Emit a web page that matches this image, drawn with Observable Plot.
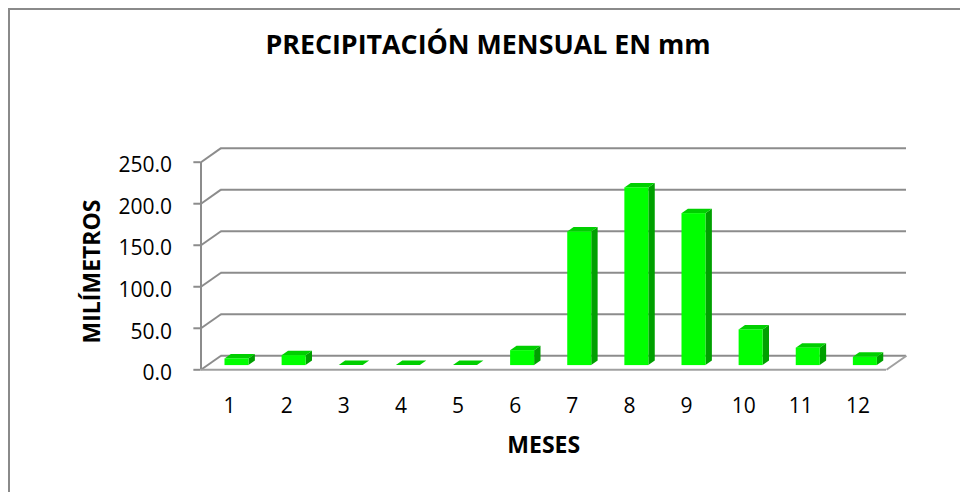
<!DOCTYPE html>
<html>
<head>
<meta charset="utf-8">
<script src="https://cdn.jsdelivr.net/npm/d3@7"></script>
<script src="https://cdn.jsdelivr.net/npm/@observablehq/plot@0.6"></script>
<style>
  html, body { margin: 0; padding: 0; background: #fff; overflow: hidden; }
  #chart svg { display: block; }
</style>
</head>
<body>
<div id="chart"></div>
<script>
// ---- data ----
const months = [1, 2, 3, 4, 5, 6, 7, 8, 9, 10, 11, 12];
const precipitation = [8, 12, 0, 0, 0, 18, 161, 214, 183, 43, 21, 10];
const yTicks = [0, 50, 100, 150, 200, 250];
const yTickLabels = ["0.0", "50.0", "100.0", "150.0", "200.0", "250.0"];
const title = "PRECIPITACIÓN MENSUAL EN mm";
const yTitle = "MILÍMETROS";
const xTitle = "MESES";

// ---- 3D projection (depth expressed in data units) ----
const DX = 0.35;    // full depth, in category units
const DY = 16.9;    // full depth, in mm units
const D0 = 0.3, D1 = 0.62;          // bar front / back depth
const BX0 = 0.315, BX1 = 0.735;     // bar extent inside its category

const rows = months.map((m, i) => ({month: m, value: precipitation[i]}));
const front = rows.map(d => ({
  month: d.month,
  x1: d.month - 1 + BX0 + D0 * DX,
  x2: d.month - 1 + BX1 + D0 * DX,
  y1: D0 * DY,
  y2: d.value + D0 * DY
}));
const tops = rows.flatMap(d => [
  {month: d.month, y: d.value + D0 * DY, x1: d.month - 1 + BX0 + D0 * DX, x2: d.month - 1 + BX1 + D0 * DX},
  {month: d.month, y: d.value + D1 * DY, x1: d.month - 1 + BX0 + D1 * DX, x2: d.month - 1 + BX1 + D1 * DX}
]);
const sides = rows.flatMap(d => [
  {month: d.month, x: d.month - 1 + BX1 + D0 * DX, y1: D0 * DY, y2: d.value + D0 * DY},
  {month: d.month, x: d.month - 1 + BX1 + D1 * DX, y1: D1 * DY, y2: d.value + D1 * DY}
]);

const grid = "#8c8c8c";
const font = "'Open Sans', 'DejaVu Sans', sans-serif";

const chart = Plot.plot({
  width: 960,
  height: 492,
  margin: 0,
  style: {fontFamily: font, background: "#fff", color: "#000"},
  x: {type: "linear", domain: [0, 12], range: [200.5, 886], axis: null},
  y: {type: "linear", domain: [0, 250], range: [369.3, 161.7], axis: null},
  marks: [
    Plot.frame({stroke: "#8a8a8a", strokeWidth: 2, insetLeft: 8.5, insetTop: 8.5, insetRight: -5, insetBottom: -5}),
    // back wall gridlines
    Plot.ruleY(yTicks, {y: d => d + DY, x1: DX, x2: 12 + DX, stroke: grid, strokeWidth: 2}),
    // left wall diagonals
    Plot.link(yTicks, {x1: 0, y1: d => d, x2: DX, y2: d => d + DY, stroke: grid, strokeWidth: 2}),
    // front value axis + ticks
    Plot.ruleX([0], {y1: 0, y2: 250, stroke: grid, strokeWidth: 2}),
    Plot.ruleY(yTicks, {x1: -0.125, x2: 0, stroke: grid, strokeWidth: 2}),
    // floor
    Plot.ruleY([0], {x1: 0, x2: 12, stroke: "#a0a0a0", strokeWidth: 2}),
    Plot.link([12], {x1: d => d, y1: 0, x2: d => d + DX, y2: DY, stroke: "#a0a0a0", strokeWidth: 2}),
    // bars: side, top, front faces
    Plot.areaY(sides, {x: "x", y1: "y1", y2: "y2", z: "month", fill: "#00a000"}),
    Plot.areaX(tops, {y: "y", x1: "x1", x2: "x2", z: "month", fill: "#00cf00"}),
    Plot.rect(front, {x1: "x1", x2: "x2", y1: "y1", y2: "y2", fill: "#00ff00"}),
    // tick labels
    Plot.text(yTicks, {x: 0, y: d => d, text: (d, i) => yTickLabels[i], textAnchor: "end", dx: -29, dy: 3.5, fontSize: 21, fill: "#000"}),
    Plot.text(months, {x: d => d - 0.5, y: 0, text: d => String(d), dy: 36, fontSize: 21, fill: "#000"}),
    // titles
    Plot.text([xTitle], {x: 6, y: 0, text: d => d, dy: 76, fontSize: 23, fontWeight: "bold", fill: "#000"}),
    Plot.text([yTitle], {frameAnchor: "left", text: d => d, dx: 92, dy: 25, rotate: -90, textAnchor: "middle", lineAnchor: "middle", fontSize: 23, fontWeight: "bold", fill: "#000"}),
    Plot.text([title], {frameAnchor: "top", text: d => d, dx: 7.5, dy: 45, textAnchor: "middle", lineAnchor: "middle", fontSize: 26.8, fontWeight: "bold", fill: "#000"})
  ]
});
document.getElementById("chart").appendChild(chart);
</script>
</body>
</html>
